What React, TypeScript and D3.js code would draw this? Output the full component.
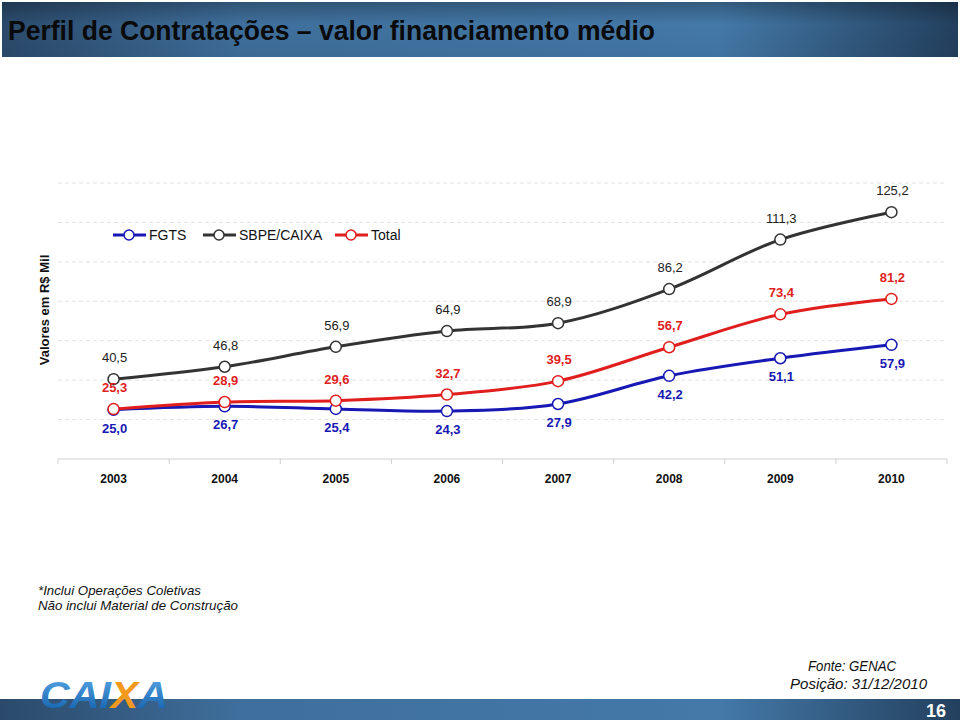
import React from "react";
import * as d3 from "d3";

const years = ["2003", "2004", "2005", "2006", "2007", "2008", "2009", "2010"];
const fgts = [25.0, 26.7, 25.4, 24.3, 27.9, 42.2, 51.1, 57.9];
const sbpe = [40.5, 46.8, 56.9, 64.9, 68.9, 86.2, 111.3, 125.2];
const total = [25.3, 28.9, 29.6, 32.7, 39.5, 56.7, 73.4, 81.2];
const gridTicks = [0, 20, 40, 60, 80, 100, 120, 140];

const BLUE = "#1818b4";
const RED = "#e01e1e";
const GRAY = "#333333";

const fmt = (v: number) => v.toFixed(1).replace(".", ",");

export default function App() {
  const W = 960;
  const H = 720;
  const x = d3.scaleBand<string>().domain(years).range([58, 947]).padding(0);
  const y = d3.scaleLinear().domain([0, 140]).range([459, 183]);
  const cx = (d: string) => (x(d) as number) + x.bandwidth() / 2;

  const line = d3
    .line<number>()
    .x((_, i) => cx(years[i]))
    .y((v) => y(v))
    .curve(d3.curveCatmullRom.alpha(0.5));

  const series = [
    { name: "FGTS", data: fgts, color: BLUE, dy: 23, labelColor: BLUE, weight: "bold" },
    { name: "SBPE/CAIXA", data: sbpe, color: GRAY, dy: -17, labelColor: "#222", weight: "normal" },
    { name: "Total", data: total, color: RED, dy: -17, labelColor: RED, weight: "bold" },
  ];

  const legend = [
    { name: "FGTS", color: BLUE, x1: 113 },
    { name: "SBPE/CAIXA", color: GRAY, x1: 203 },
    { name: "Total", color: RED, x1: 335 },
  ];

  const font = "Arial, 'Liberation Sans', Helvetica, sans-serif";

  return (
    <svg
      width={W}
      height={H}
      style={{ position: "absolute", left: 0, top: 0, background: "#fff" }}
      fontFamily={font}
    >
      <defs>
        <linearGradient id="titleGrad" x1="0" x2="1" y1="0" y2="0">
          <stop offset="0" stopColor="#2b4a6b" />
          <stop offset="0.25" stopColor="#3f6f9c" />
          <stop offset="0.75" stopColor="#4479a8" />
          <stop offset="1" stopColor="#23405e" />
        </linearGradient>
        <linearGradient id="titleShade" x1="0" x2="0" y1="0" y2="1">
          <stop offset="0" stopColor="#000" stopOpacity="0.25" />
          <stop offset="0.4" stopColor="#000" stopOpacity="0" />
          <stop offset="1" stopColor="#000" stopOpacity="0.05" />
        </linearGradient>
        <linearGradient id="logoGrad" x1="0" x2="0" y1="0" y2="1">
          <stop offset="0" stopColor="#5aa8e6" />
          <stop offset="1" stopColor="#0a5aa8" />
        </linearGradient>
      </defs>

      {/* Title bar */}
      <rect x={2} y={2} width={956} height={55} fill="url(#titleGrad)" />
      <rect x={2} y={2} width={956} height={55} fill="url(#titleShade)" />
      <text
        x={8}
        y={40}
        fontSize={27}
        fontWeight="bold"
        fill="#0a0a0a"
        textLength={647}
        lengthAdjust="spacingAndGlyphs"
      >
        Perfil de Contratações – valor financiamento médio
      </text>

      {/* Gridlines */}
      {gridTicks
        .filter((t) => t > 0)
        .map((t) => (
          <line
            key={t}
            x1={58}
            x2={947}
            y1={y(t)}
            y2={y(t)}
            stroke="#e2e2e2"
            strokeDasharray="4,3"
            strokeWidth={1}
          />
        ))}

      {/* X axis */}
      <line x1={58} x2={947} y1={y(0)} y2={y(0)} stroke="#d0d0d0" strokeWidth={1} />
      {years.map((yr) => (
        <line
          key={"t" + yr}
          x1={x(yr) as number}
          x2={x(yr) as number}
          y1={y(0)}
          y2={y(0) + 5}
          stroke="#d0d0d0"
        />
      ))}
      <line x1={947} x2={947} y1={y(0)} y2={y(0) + 5} stroke="#d0d0d0" />
      {years.map((yr) => (
        <text
          key={"l" + yr}
          x={cx(yr)}
          y={483}
          textAnchor="middle"
          fontSize={12}
          fontWeight="bold"
          fill="#111"
        >
          {yr}
        </text>
      ))}

      {/* Y axis title */}
      <text
        transform="translate(49,310) rotate(-90)"
        textAnchor="middle"
        fontSize={13}
        fontWeight="bold"
        fill="#111"
      >
        Valores em R$ Mil
      </text>

      {/* Series lines */}
      {series.map((s) => (
        <path
          key={s.name}
          d={line(s.data) as string}
          fill="none"
          stroke={s.color}
          strokeWidth={3}
        />
      ))}
      {series.map((s) =>
        s.data.map((v, i) => (
          <circle
            key={s.name + i}
            cx={cx(years[i])}
            cy={y(v)}
            r={5.5}
            fill="#fff"
            stroke={s.color}
            strokeWidth={1.5}
          />
        ))
      )}
      {series.map((s) =>
        s.data.map((v, i) => (
          <text
            key={"v" + s.name + i}
            x={cx(years[i]) + 1}
            y={y(v) + s.dy}
            textAnchor="middle"
            fontSize={13}
            fontWeight={s.weight}
            fill={s.labelColor}
          >
            {fmt(v)}
          </text>
        ))
      )}

      {/* Legend */}
      {legend.map((l) => (
        <g key={l.name}>
          <line x1={l.x1} x2={l.x1 + 33} y1={235} y2={235} stroke={l.color} strokeWidth={3} />
          <circle cx={l.x1 + 16} cy={235} r={5} fill="#fff" stroke={l.color} strokeWidth={1.5} />
          <text x={l.x1 + 36} y={240} fontSize={14} fill="#111">
            {l.name}
          </text>
        </g>
      ))}

      {/* Footnotes */}
      <text x={38} y={595} fontSize={13.5} fontStyle="italic" fill="#111" textLength={163} lengthAdjust="spacingAndGlyphs">
        *Inclui Operações Coletivas
      </text>
      <text x={38} y={610} fontSize={13.5} fontStyle="italic" fill="#111" textLength={200} lengthAdjust="spacingAndGlyphs">
        Não inclui Material de Construção
      </text>
      <text x={808} y={671} fontSize={14} fontStyle="italic" fill="#111" textLength={88} lengthAdjust="spacingAndGlyphs">
        Fonte: GENAC
      </text>
      <text x={790} y={689} fontSize={14} fontStyle="italic" fill="#111" textLength={137} lengthAdjust="spacingAndGlyphs">
        Posição: 31/12/2010
      </text>

      {/* Bottom bar */}
      <rect x={0} y={699} width={960} height={21} fill="url(#titleGrad)" />
      <text x={946} y={717} textAnchor="end" fontSize={18} fontWeight="bold" fill="#fff">
        16
      </text>

      {/* Logo */}
      <text
        x={40}
        y={708}
        fontSize={36}
        fontWeight="bold"
        fontStyle="italic"
        textLength={128}
        lengthAdjust="spacingAndGlyphs"
        fill="url(#logoGrad)"
      >
        CAI<tspan fill="#f39a1e">X</tspan>A
      </text>
    </svg>
  );
}
